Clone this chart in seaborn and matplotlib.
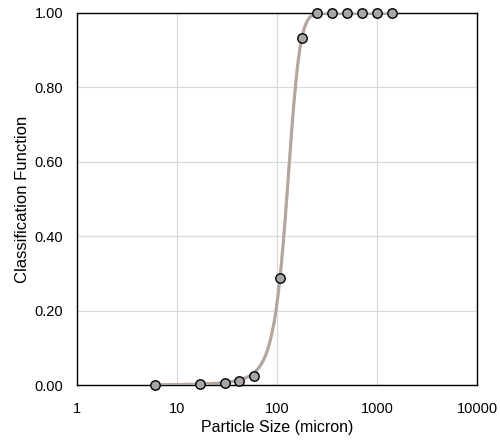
import numpy as np
import pandas as pd
import matplotlib
matplotlib.use("Agg")
import matplotlib.pyplot as plt
import seaborn as sns

# Measured classification points
particle_size = [6, 17, 30, 42, 59, 107, 178, 250, 355, 500, 710, 1000, 1410]
classification = [0.000, 0.002, 0.005, 0.010, 0.025, 0.288, 0.933,
                  1.000, 1.000, 1.000, 1.000, 1.000, 1.000]

# Fitted Whiten classification model parameters
d50 = 125.0
alpha = 6.3

x_ticks = [1, 10, 100, 1000, 10000]
x_tick_labels = ["1", "10", "100", "1000", "10000"]
y_ticks = [0.0, 0.2, 0.4, 0.6, 0.8, 1.0]

sns.set_theme(style="white")
plt.rcParams["font.family"] = ["Liberation Sans", "DejaVu Sans"]

fig = plt.figure(figsize=(5.0, 4.4), dpi=100)
ax = fig.add_axes([0.154, 0.125, 0.8, 0.8455])

# Model curve
d = np.logspace(np.log10(6), np.log10(1410), 400)
xr = d / d50
c = (np.exp(alpha * xr) - 1) / (np.exp(alpha * xr) + np.exp(alpha) - 2)
fit = pd.DataFrame({"size": d, "c": c})
sns.lineplot(data=fit, x="size", y="c", ax=ax, color="#D2A890", lw=2.3, zorder=2)
sns.lineplot(data=fit, x="size", y="c", ax=ax, color="#ABA9A7", lw=1.7, zorder=3)

pts = pd.DataFrame({"size": particle_size, "c": classification})
sns.scatterplot(data=pts, x="size", y="c", ax=ax, s=46, color="#A6A6A6",
                edgecolor="black", linewidth=1.0, zorder=4, clip_on=False)

ax.set_xscale("log")
ax.set_xlim(1, 10000)
ax.set_ylim(0, 1)
ax.set_xticks(x_ticks)
ax.set_xticklabels(x_tick_labels)
ax.set_yticks(y_ticks)
ax.set_yticklabels([f"{v:.2f}" for v in y_ticks])
ax.minorticks_off()
ax.grid(True, color="#D9D9D9", lw=0.9)
ax.set_axisbelow(True)
for s in ax.spines.values():
    s.set_color("black")
    s.set_linewidth(1.0)
ax.tick_params(axis="x", length=0, labelsize=10.5, colors="black", pad=12)
ax.tick_params(axis="y", length=0, labelsize=10.5, colors="black", pad=10)
ax.set_xlabel("Particle Size (micron)", fontsize=11.5, color="black", labelpad=3)
ax.set_ylabel("Classification Function", fontsize=12, color="black", labelpad=3)

fig.savefig("out.png", dpi=100)
